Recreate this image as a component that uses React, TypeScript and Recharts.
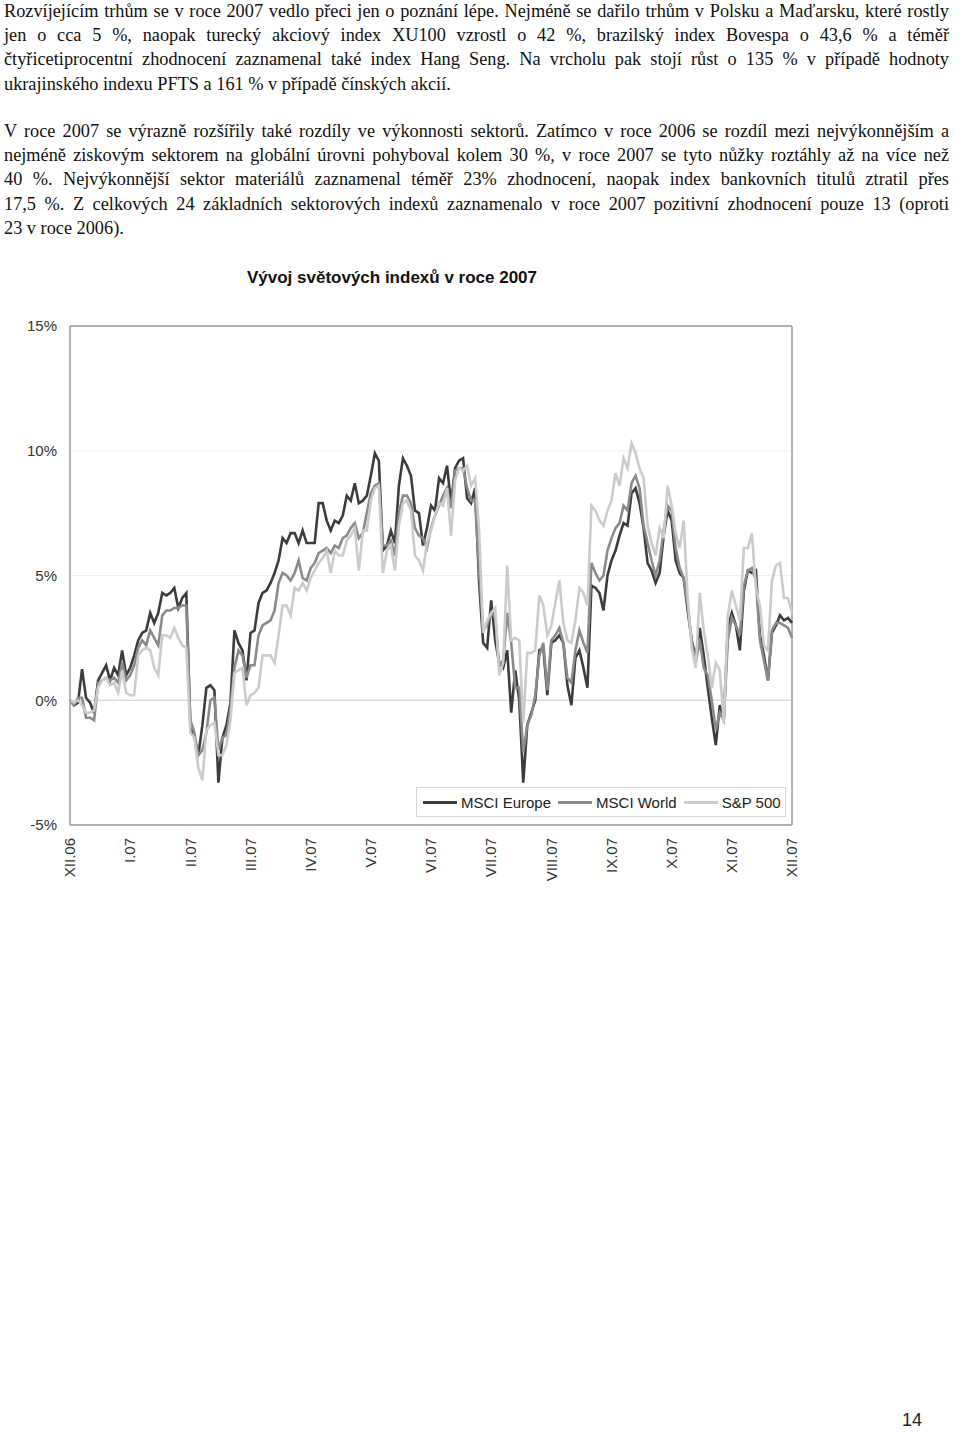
import React from "react";
import { LineChart, Line, XAxis, YAxis, CartesianGrid, ReferenceLine, Legend } from "recharts";

const monthLabels = ["XII.06", "I.07", "II.07", "III.07", "IV.07", "V.07", "VI.07", "VII.07", "VIII.07", "IX.07", "X.07", "XI.07", "XII.07"];
const yTicks = [-5, 0, 5, 10, 15];
const seriesNames = ["MSCI Europe", "MSCI World", "S&P 500"];

const europe = [
  0, -0.2, -0.1, 1.25, 0.1, -0.1, -0.5, 0.8, 1.1, 1.4,
  0.8, 1.3, 1.0, 2.0, 1.0, 1.3, 1.8, 2.4, 2.7, 2.8,
  3.5, 3.1, 3.5, 4.3, 4.2, 4.3, 4.5, 3.7, 4.1, 4.3,
  -1.0, -1.5, -2.2, -1.0, 0.5, 0.6, 0.4, -3.3, -1.5, -1.0,
  -0.1, 2.8, 2.3, 2.0, 0.8, 2.7, 2.8, 3.9, 4.3, 4.4,
  4.7, 5.1, 5.6, 6.5, 6.3, 6.7, 6.7, 6.3, 6.8, 6.3,
  6.3, 6.3, 7.9, 7.9, 7.2, 6.8, 7.2, 7.1, 7.4, 8.2,
  8.0, 8.7, 7.9, 8.0, 8.2, 9.0, 9.9, 9.6, 6.0, 6.2,
  6.8, 6.3, 8.6, 9.7, 9.4, 9.0, 7.6, 7.5, 6.2, 6.9,
  7.8, 7.6, 8.9, 8.7, 9.4, 7.9, 9.3, 9.6, 9.7, 8.1,
  7.9, 8.5, 4.7, 2.3, 2.1, 4.0, 2.4, 1.5, 1.3, 2.0,
  -0.5, 1.2, 0.0, -3.3, -1.0, -0.5, 0.0, 2.0, 2.1, 0.2,
  2.3, 2.4, 2.6, 2.3, 0.6, -0.2, 1.7, 2.0, 1.3, 0.5,
  4.6, 4.5, 4.3, 3.6, 5.0, 5.6, 6.0, 6.6, 7.1, 7.0,
  8.3, 8.5, 7.9, 6.9, 5.5, 5.2, 4.7, 5.1, 6.6, 7.6,
  7.2, 5.6, 5.1, 4.9, 3.6, 2.4, 1.7, 2.9, 1.8, 0.5,
  -0.7, -1.8, -0.2, -0.7, 2.9, 3.5, 3.0, 2.0, 4.4, 5.2,
  5.1, 5.2, 2.6, 1.8, 0.8, 2.7, 3.0, 3.4, 3.2, 3.3,
  3.1,
];

const world = [
  0, -0.2, 0.1, 0.1, -0.7, -0.7, -0.8, 0.7, 0.8, 0.9,
  0.8, 0.9, 0.7, 1.5, 0.8, 1.0, 1.4, 2.1, 2.4, 2.2,
  2.8, 2.5, 2.2, 3.4, 3.6, 3.6, 3.7, 3.7, 3.8, 3.8,
  -0.8, -1.3, -2.2, -2.0, -1.3, 0.0, 0.1, -2.0, -1.5, -1.4,
  -0.3, 1.3, 2.0, 1.8, 0.9, 1.4, 1.4, 2.6, 3.0, 3.1,
  3.2, 3.6, 4.7, 5.1, 5.0, 4.8, 5.1, 5.6, 4.9, 4.8,
  5.3, 5.5, 5.9, 6.0, 6.1, 5.9, 6.2, 6.1, 6.5, 6.6,
  6.9, 7.1, 6.5, 6.7, 7.5, 8.3, 8.6, 8.7, 6.2, 6.2,
  6.4, 5.8, 7.5, 8.2, 8.2, 7.9, 6.9, 6.6, 6.5, 6.1,
  6.9, 7.4, 7.8, 8.2, 8.5, 7.7, 9.2, 9.3, 9.3, 8.5,
  8.0, 8.0, 5.2, 2.8, 3.0, 3.5, 3.3, 1.4, 1.6, 3.5,
  2.3, 0.5, 0.5, -2.1, -1.0, -0.6, 0.2, 1.8, 2.3, 0.4,
  2.4, 2.6, 2.9, 2.3, 0.9, 0.7, 2.0, 2.8, 2.3, 1.9,
  5.5, 5.1, 4.8, 5.0, 6.0, 6.5, 6.9, 7.1, 7.8, 7.6,
  8.7, 9.0, 8.5, 7.0, 6.3, 5.6, 5.0, 5.6, 6.8, 7.8,
  7.6, 6.1, 5.3, 4.9, 3.8, 2.3, 1.5, 2.4, 1.3, 1.0,
  0.0, -1.2, -0.5, -0.8, 2.4, 3.3, 3.0, 2.6, 4.6, 5.2,
  5.3, 4.8, 2.4, 1.6, 0.8, 2.8, 3.1, 3.1, 3.0, 2.9,
  2.5,
];

const sp500 = [
  0, -0.1, 0.0, -0.2, -0.5, -0.5, -0.4, 0.5, 0.8, 0.9,
  0.6, 0.7, 0.3, 1.2, 0.3, 0.2, 0.2, 1.8, 2.0, 2.1,
  2.0, 1.3, 1.0, 2.6, 2.6, 2.5, 2.9, 2.5, 2.2, 2.1,
  -1.3, -1.5, -2.7, -3.2, -1.2, -1.0, -0.9, -2.2, -2.2, -1.8,
  -0.8, 1.1, 1.2, 1.3, -0.2, 0.2, 0.3, 0.5, 1.8, 1.8,
  1.8, 1.5, 2.6, 3.8, 3.8, 3.4, 4.5, 4.4, 4.7, 4.4,
  4.9, 5.2, 5.5, 5.7, 6.0, 5.1, 6.0, 5.8, 5.8, 6.4,
  6.6, 6.9, 5.2, 6.8, 6.8, 8.0, 8.5, 8.6, 5.1, 6.0,
  6.2, 5.2, 7.0, 7.9, 8.0, 7.6, 5.8, 5.6, 5.2, 6.3,
  6.8, 7.4, 7.9, 7.8, 8.5, 6.6, 8.8, 9.3, 9.2, 9.4,
  8.6, 8.9, 6.8, 2.7, 3.2, 3.5, 3.7, 1.0, 1.5, 5.4,
  2.4, 2.5, 2.4, -0.9, 1.9, 1.9, 2.0, 4.2, 3.8, 2.6,
  3.0, 3.9, 4.8, 3.1, 2.4, 2.3, 3.2, 4.5, 4.3, 3.8,
  7.8, 7.6, 7.2, 7.0, 7.6, 8.0, 9.1, 8.6, 9.7, 9.3,
  10.3, 9.9, 9.3, 8.9, 7.0, 6.3, 5.8, 6.9, 6.5, 8.6,
  7.8, 6.7, 6.1, 7.2, 4.1, 2.1, 1.3, 4.3, 2.8, 1.8,
  0.5, 1.5, 1.2, -0.9, 3.4, 4.4, 3.8, 3.2, 6.1, 6.1,
  6.7, 4.5, 3.8, 2.2, 2.0, 4.8, 5.4, 5.5, 4.1, 4.1,
  3.5,
];

const data = europe.map((v, i) => ({ t: i, europe: v, world: world[i], sp500: sp500[i] }));
const stepPerMonth = (europe.length - 1) / (monthLabels.length - 1);
const xTicks = monthLabels.map((_, i) => i * stepPerMonth);

const SANS = "'Liberation Sans', Arial, sans-serif";
const SERIF = "'Liberation Serif', 'Times New Roman', serif";

const para1 = [
  "Rozvíjejícím trhům se v roce 2007 vedlo přeci jen o poznání lépe. Nejméně se dařilo trhům v Polsku a Maďarsku, které rostly",
  "jen o cca 5 %, naopak turecký akciový index XU100 vzrostl o 42 %, brazilský index Bovespa o 43,6 % a téměř",
  "čtyřicetiprocentní zhodnocení zaznamenal také index Hang Seng. Na vrcholu pak stojí růst o 135 % v případě hodnoty",
  "ukrajinského indexu PFTS a 161 % v případě čínských akcií.",
];
const para2 = [
  "V roce 2007 se výrazně rozšířily také rozdíly ve výkonnosti sektorů. Zatímco v roce 2006 se rozdíl mezi nejvýkonnějším a",
  "nejméně ziskovým sektorem na globální úrovni pohyboval kolem 30 %, v roce 2007 se tyto nůžky roztáhly až na více než",
  "40 %. Nejvýkonnější sektor materiálů zaznamenal téměř 23% zhodnocení, naopak index bankovních titulů ztratil přes",
  "17,5 %. Z celkových 24 základních sektorových indexů zaznamenalo v roce 2007 pozitivní zhodnocení pouze 13 (oproti",
  "23 v roce 2006).",
];

function Paragraph({ lines, top }: { lines: string[]; top: number }) {
  return (
    <div style={{ position: "absolute", left: 4, top, width: 945, fontFamily: SERIF, fontSize: 18.3, lineHeight: "24.2px", color: "#111" }}>
      {lines.map((l, i) => {
        const last = i === lines.length - 1;
        return (
          <div key={i} style={{ whiteSpace: "nowrap", textAlign: last ? "left" : "justify", textAlignLast: last ? "left" : "justify" } as React.CSSProperties}>
            {l}
          </div>
        );
      })}
    </div>
  );
}

function XTick(props: any) {
  const { x, y, payload } = props;
  const idx = Math.round(payload.value / stepPerMonth);
  return (
    <text
      x={x}
      y={y}
      transform={`rotate(-90 ${x} ${y})`}
      textAnchor="end"
      dy="0.35em"
      fontSize={15}
      fontFamily={SANS}
      fill="#333"
    >
      {monthLabels[idx]}
    </text>
  );
}

function LegendBox(props: any) {
  const payload = props.payload || [];
  return (
    <div
      style={{
        border: "1px solid #d6d6d6",
        height: 30,
        boxSizing: "border-box",
        display: "flex",
        alignItems: "center",
        paddingLeft: 6,
        fontFamily: SANS,
        fontSize: 15,
        color: "#222",
        background: "#fff",
        whiteSpace: "nowrap",
      }}
    >
      {payload.map((p: any, i: number) => (
        <div key={i} style={{ display: "flex", alignItems: "center", marginRight: 7 }}>
          <div style={{ width: 34, height: 3, background: p.color, marginRight: 4 }} />
          <span>{p.value}</span>
        </div>
      ))}
    </div>
  );
}

export default function App() {
  return (
    <div style={{ position: "absolute", left: 0, top: 0, width: 960, height: 1432, background: "#fff" }}>
      <Paragraph lines={para1} top={-1} />
      <Paragraph lines={para2} top={119} />

      <div style={{ position: "absolute", left: 0, top: 268, width: 784, textAlign: "center", fontFamily: SANS, fontWeight: "bold", fontSize: 17, lineHeight: "20px", color: "#111" }}>
        Vývoj světových indexů v roce 2007
      </div>

      <div style={{ position: "absolute", left: 0, top: 300 }}>
        <LineChart width={960} height={585} data={data} margin={{ top: 26, right: 168, bottom: 0, left: 0 }}>
          <CartesianGrid vertical={false} stroke="#efefef" strokeWidth={1} />
          <XAxis
            type="number"
            dataKey="t"
            domain={[0, europe.length - 1]}
            ticks={xTicks}
            interval={0}
            tick={<XTick />}
            tickLine={false}
            tickSize={6}
            tickMargin={7}
            height={60}
            axisLine={{ stroke: "#9a9a9a", strokeWidth: 1.5 }}
          />
          <YAxis
            domain={[-5, 15]}
            ticks={yTicks}
            tickFormatter={(v: number) => `${v}%`}
            tickLine={false}
            tickSize={6}
            tickMargin={7}
            width={70}
            axisLine={{ stroke: "#9a9a9a", strokeWidth: 1.5 }}
            tick={{ fontSize: 15, fontFamily: SANS, fill: "#333" }}
          />
          <ReferenceLine y={0} stroke="#d0d0d0" strokeWidth={1} />
          <ReferenceLine y={15} stroke="#9a9a9a" strokeWidth={1.5} />
          <ReferenceLine x={europe.length - 1} stroke="#9a9a9a" strokeWidth={1.5} />
          <Line type="linear" dataKey="europe" name={seriesNames[0]} stroke="#3c3c3c" strokeWidth={2.6} dot={false} isAnimationActive={false} />
          <Line type="linear" dataKey="world" name={seriesNames[1]} stroke="#8a8a8a" strokeWidth={2.6} dot={false} isAnimationActive={false} />
          <Line type="linear" dataKey="sp500" name={seriesNames[2]} stroke="#cbcbcb" strokeWidth={2.6} dot={false} isAnimationActive={false} />
          <Legend
            layout="horizontal"
            verticalAlign="middle"
            align="center"
            width={370}
            content={<LegendBox />}
            wrapperStyle={{ position: "absolute", left: 416, top: 487, width: 370, height: 30 }}
          />
        </LineChart>
      </div>

      <div style={{ position: "absolute", left: 902, top: 1410, fontFamily: SANS, fontSize: 18, lineHeight: "20px", color: "#222" }}>14</div>
    </div>
  );
}
